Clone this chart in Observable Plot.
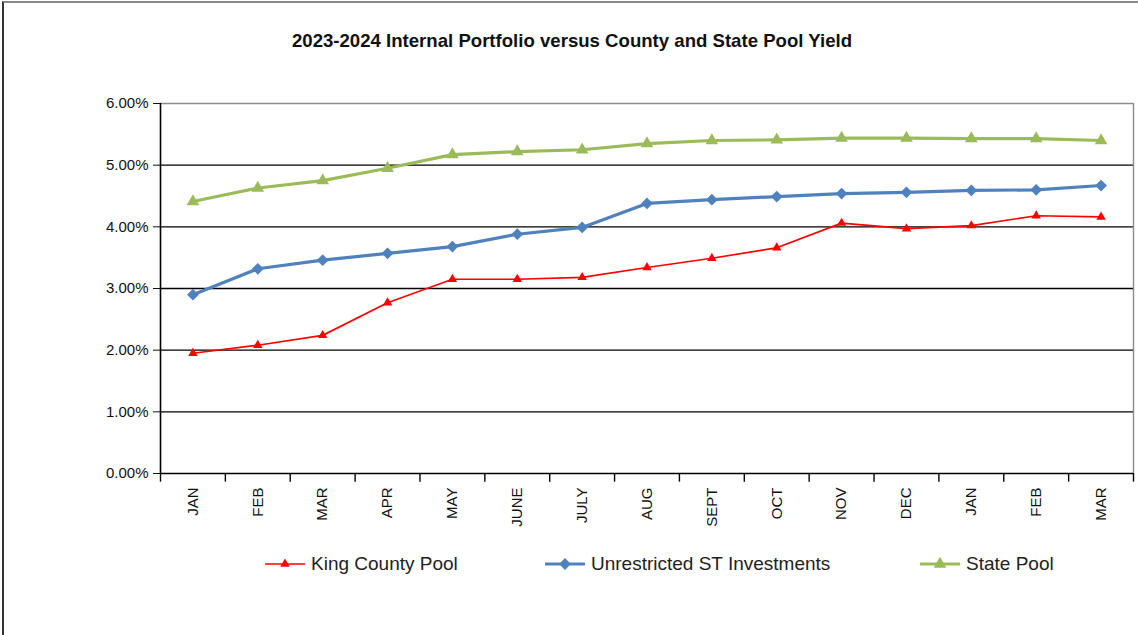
<!DOCTYPE html>
<html>
<head>
<meta charset="utf-8">
<script src="https://cdn.jsdelivr.net/npm/d3@7"></script>
<script src="https://cdn.jsdelivr.net/npm/@observablehq/plot@0.6"></script>
<style>
  html, body { margin: 0; padding: 0; background: #fff; }
  #wrap { position: relative; width: 1138px; height: 635px; overflow: hidden; background: #fff; }
  #frame { position: absolute; left: 2px; top: 1px; width: 1140px; height: 640px; border-top: 2px solid #8a8a8a; border-left: 2px solid #333; box-sizing: border-box; pointer-events: none; }
  #title { height: 82px; display: flex; align-items: center; justify-content: center; font-family: "Liberation Sans", sans-serif; font-weight: bold; font-size: 18.6px; color: #111; padding-left: 6px; box-sizing: border-box; }
  #chart { height: 460px; }
  #chart svg { display: block; }
  #legend { position: relative; height: 93px; font-family: "Liberation Sans", sans-serif; font-size: 19px; color: #222; }
  .item { position: absolute; top: 11px; height: 22px; display: flex; align-items: center; white-space: nowrap; }
  .item svg { margin-right: 6px; }
</style>
</head>
<body>
<div id="wrap">
  <div id="title">2023-2024 Internal Portfolio versus County and State Pool Yield</div>
  <div id="chart"></div>
  <div id="legend"></div>
  <div id="frame"></div>
</div>
<script>
// ---- data ----
const months = ["JAN","FEB","MAR","APR","MAY","JUNE","JULY","AUG","SEPT","OCT","NOV","DEC","JAN","FEB","MAR"];
const seriesNames = ["King County Pool", "Unrestricted ST Investments", "State Pool"];
const kingCounty = [1.95, 2.08, 2.24, 2.77, 3.15, 3.15, 3.18, 3.34, 3.49, 3.66, 4.06, 3.97, 4.02, 4.18, 4.16];
const unrestricted = [2.90, 3.32, 3.46, 3.57, 3.68, 3.88, 3.99, 4.38, 4.44, 4.49, 4.54, 4.56, 4.59, 4.60, 4.67];
const statePool = [4.41, 4.63, 4.75, 4.95, 5.17, 5.22, 5.25, 5.35, 5.40, 5.41, 5.44, 5.44, 5.43, 5.43, 5.40];
const yTicks = [0, 1, 2, 3, 4, 5, 6];

const colors = {"King County Pool": "#ff0000", "Unrestricted ST Investments": "#4f81bd", "State Pool": "#9bbb59"};
const styles = {
  "King County Pool": {width: 1.7, symbol: "triangle", r: 3.5},
  "Unrestricted ST Investments": {width: 3.2, symbol: "diamond2", r: 5.3},
  "State Pool": {width: 3.2, symbol: "triangle", r: 4.7}
};

const values = [kingCounty, unrestricted, statePool];
const rows = [];
seriesNames.forEach((s, k) => values[k].forEach((v, i) => rows.push({series: s, i, v: v / 100})));
const idx = months.map((m, i) => i);
const bounds = d3.range(-0.5, months.length, 1);

const order = ["State Pool", "Unrestricted ST Investments", "King County Pool"];
const seriesMarks = order.flatMap(s => {
  const data = rows.filter(d => d.series === s);
  const st = styles[s];
  return [
    Plot.line(data, {x: "i", y: "v", stroke: colors[s], strokeWidth: st.width}),
    Plot.dot(data, {x: "i", y: "v", symbol: () => st.symbol, fill: colors[s], stroke: "none", r: st.r})
  ];
});

const chart = Plot.plot({
  width: 1138,
  height: 460,
  marginTop: 21,
  marginBottom: 69,
  marginLeft: 160,
  marginRight: 5,
  style: {fontFamily: "'Liberation Sans', sans-serif", fontSize: "15px", color: "#111", background: "transparent"},
  x: {domain: [-0.5, months.length - 0.5], axis: null},
  y: {domain: [0, 0.06], ticks: yTicks.map(t => t / 100), tickFormat: d3.format(".2%"), tickSize: 7, tickPadding: 5, label: null, line: false},
  symbol: {domain: ["triangle", "diamond2"], range: ["triangle", "diamond2"]},
  marks: [
    Plot.ruleY(yTicks.filter(t => t > 0 && t < 6).map(t => t / 100), {stroke: "#000", strokeWidth: 1.4}),
    Plot.ruleY([0.06], {stroke: "#8c8c8c", strokeWidth: 1.4}),
    Plot.ruleX([months.length - 0.5], {stroke: "#8c8c8c", strokeWidth: 1.4}),
    Plot.ruleX(bounds, {y1: 0, y2: -0.0014, stroke: "#000", strokeWidth: 1.4}),
    Plot.ruleY([0], {stroke: "#000", strokeWidth: 1.6}),
    Plot.ruleX([-0.5], {stroke: "#000", strokeWidth: 1.6}),
    Plot.text(idx, {x: d => d, y: 0, text: d => months[d], rotate: -90, textAnchor: "end", dy: 14, fontSize: 15, fill: "#111", fontFamily: "'Liberation Sans', sans-serif"}),
    ...seriesMarks
  ]
});
document.getElementById("chart").appendChild(chart);

// ---- legend ----
const legendPos = {"King County Pool": 265, "Unrestricted ST Investments": 545, "State Pool": 920};
const legend = document.getElementById("legend");
seriesNames.forEach(s => {
  const st = styles[s];
  const item = document.createElement("div");
  item.className = "item";
  item.style.left = legendPos[s] + "px";
  const sym = d3.symbol(st.symbol === "triangle" ? d3.symbolTriangle : d3.symbolDiamond2, Math.PI * st.r * st.r)();
  item.innerHTML = `<svg width="40" height="16"><line x1="0" x2="40" y1="8" y2="8" stroke="${colors[s]}" stroke-width="${st.width}"/><path d="${sym}" transform="translate(20,8)" fill="${colors[s]}"/></svg>`;
  const span = document.createElement("span");
  span.textContent = s;
  item.appendChild(span);
  legend.appendChild(item);
});
</script>
</body>
</html>
